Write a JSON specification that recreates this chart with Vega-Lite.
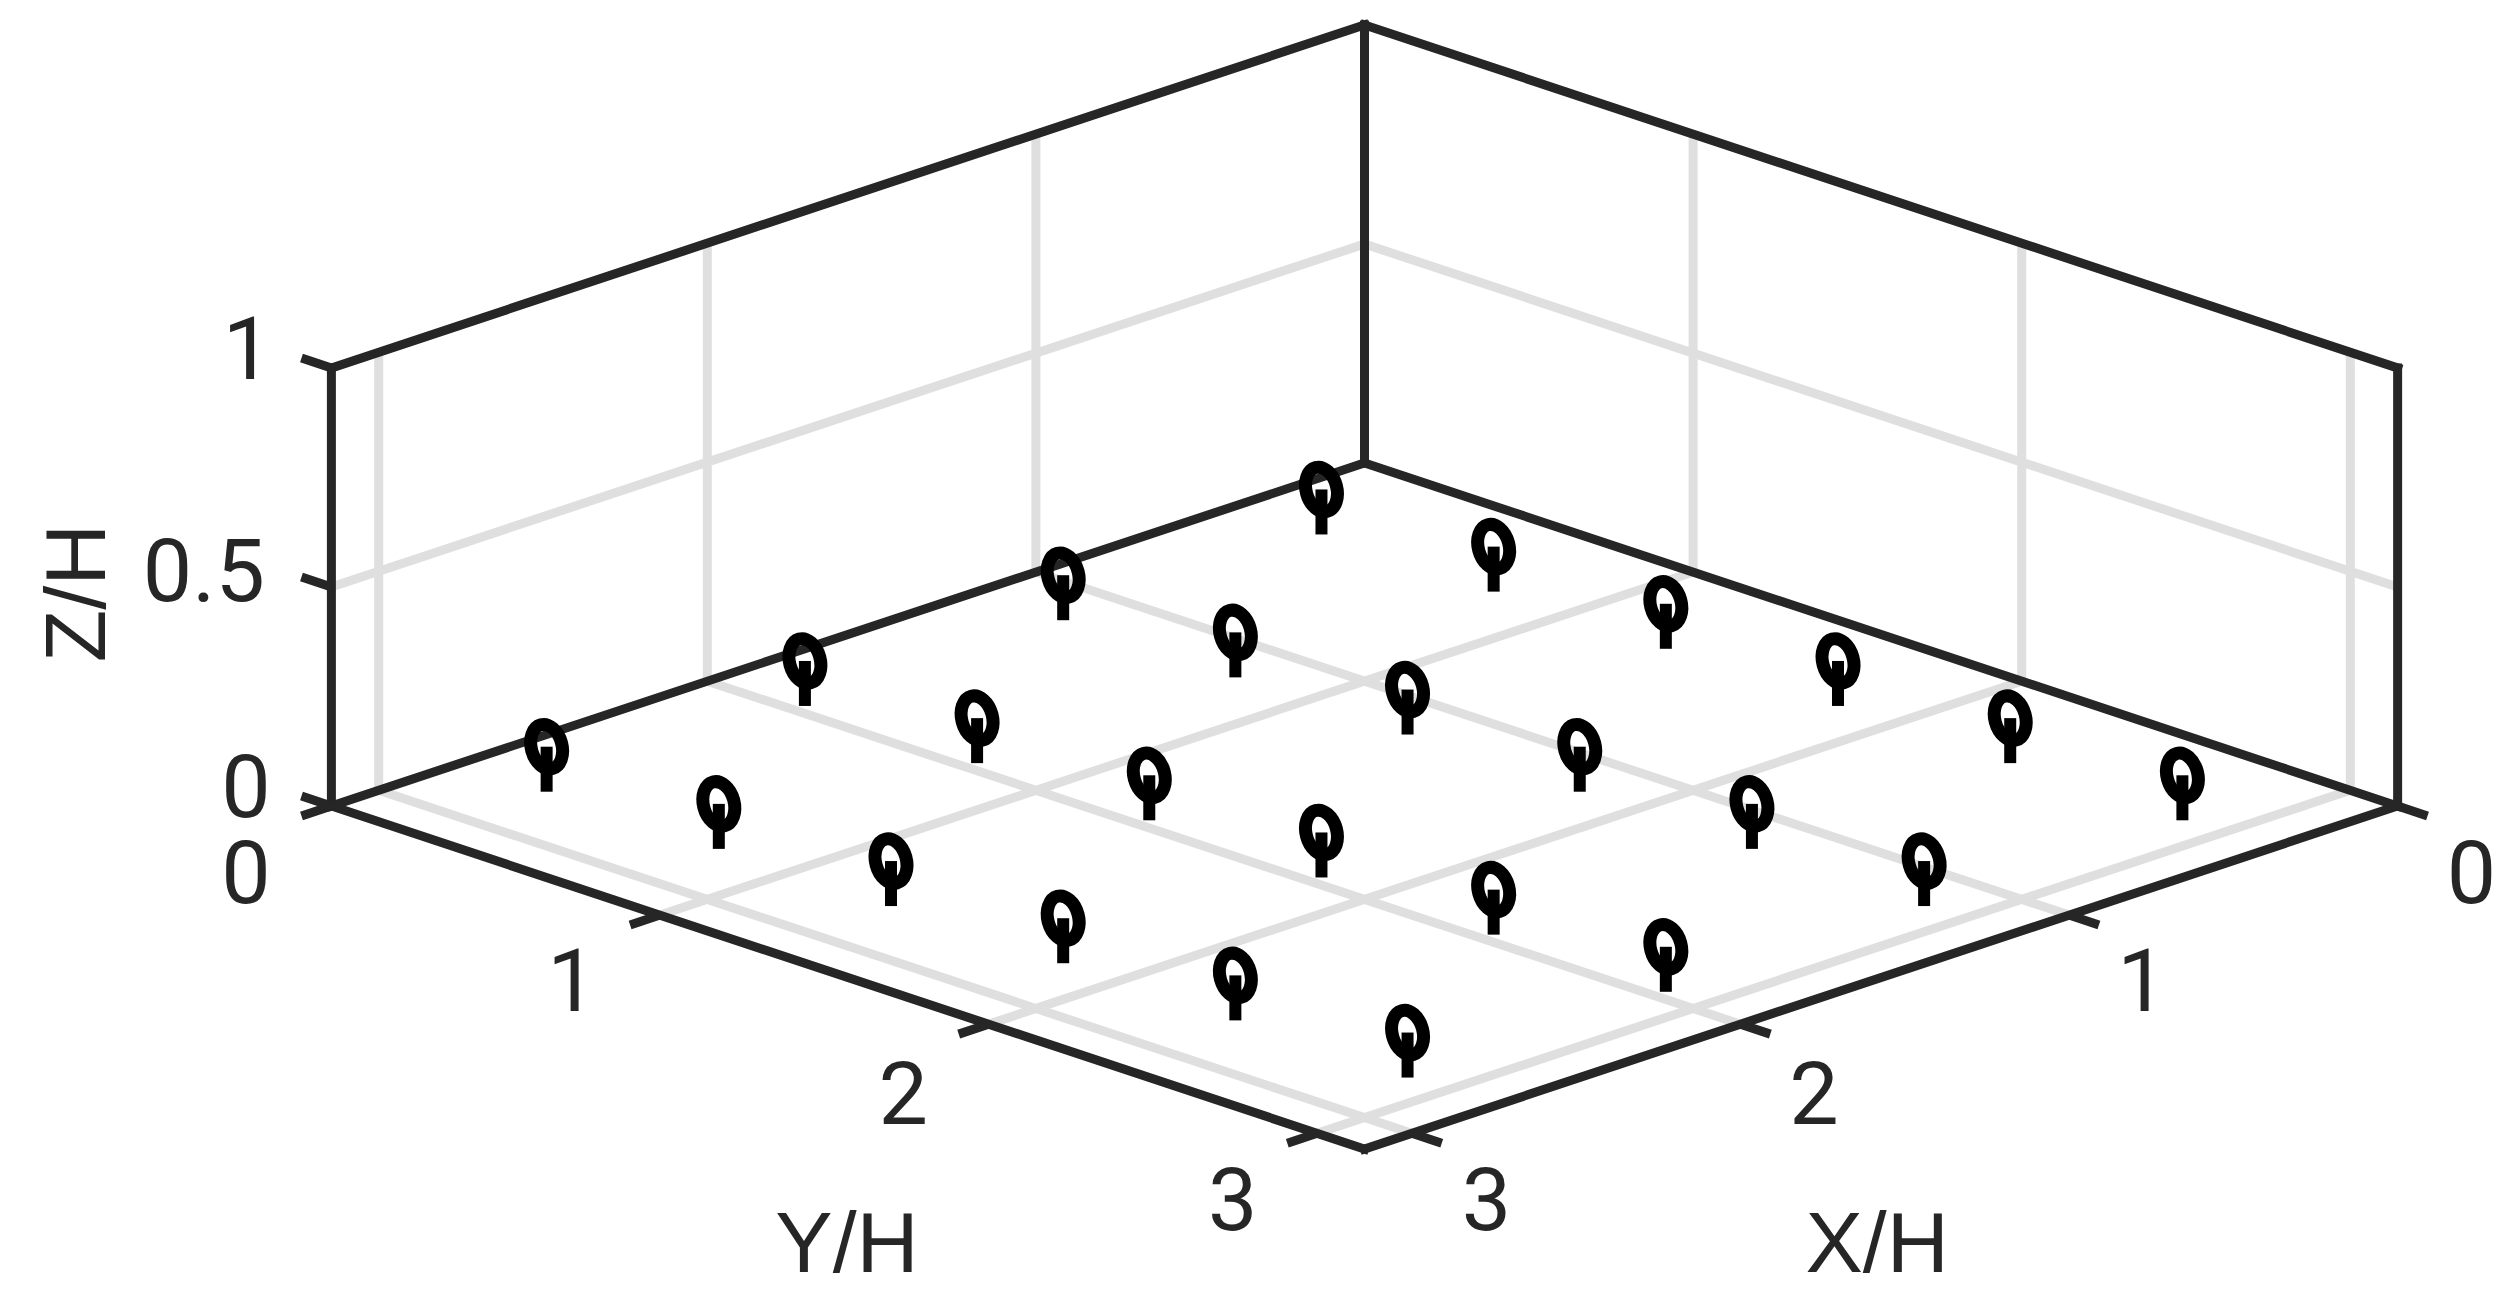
{"$schema":"https://vega.github.io/schema/vega-lite/v6.json","width":2520,"height":1304,"padding":0,"autosize":{"type":"none"},"background":"white","view":{"stroke":null},
"datasets":{
"grid":[{"u":-1,"d":1,"u2":-1,"d2":-3.015},{"u":-2,"d":2,"u2":-2,"d2":-2.015},{"u":-3,"d":3,"u2":-3,"d2":-1.015},{"u":1,"d":1,"u2":1,"d2":-3.015},{"u":2,"d":2,"u2":2,"d2":-2.015},{"u":3,"d":3,"u2":3,"d2":-1.015},{"u":-1,"d":1,"u2":2.144,"d2":4.144},{"u":-2,"d":2,"u2":1.144,"d2":5.144},{"u":-3,"d":3,"u2":0.144,"d2":6.144},{"u":1,"d":1,"u2":-2.144,"d2":4.144},{"u":2,"d":2,"u2":-1.144,"d2":5.144},{"u":3,"d":3,"u2":-0.144,"d2":6.144},{"u":-3.144,"d":1.1365,"u2":0,"d2":-2.0075},{"u":0,"d":-2.0075,"u2":3.144,"d2":1.1365}],
"frame":[{"u":-3.144,"d":3.144,"u2":-3.144,"d2":-0.871},{"u":-3.144,"d":-0.871,"u2":0,"d2":-4.015},{"u":0,"d":-4.015,"u2":3.144,"d2":-0.871},{"u":3.144,"d":3.144,"u2":3.144,"d2":-0.871},{"u":0,"d":0,"u2":0,"d2":-4.015},{"u":-3.144,"d":3.144,"u2":0,"d2":0},{"u":0,"d":0,"u2":3.144,"d2":3.144},{"u":-3.144,"d":3.144,"u2":0,"d2":6.288},{"u":0,"d":6.288,"u2":3.144,"d2":3.144}],
"ticks":[{"u":-3.144,"d":3.144,"u2":-3.235,"d2":3.053},{"u":-3.144,"d":1.1365,"u2":-3.235,"d2":1.0455},{"u":-3.144,"d":-0.871,"u2":-3.235,"d2":-0.962},{"u":-3.144,"d":3.144,"u2":-3.235,"d2":3.235},{"u":-2.144,"d":4.144,"u2":-2.235,"d2":4.235},{"u":-1.144,"d":5.144,"u2":-1.235,"d2":5.235},{"u":-0.144,"d":6.144,"u2":-0.235,"d2":6.235},{"u":3.144,"d":3.144,"u2":3.235,"d2":3.235},{"u":2.144,"d":4.144,"u2":2.235,"d2":4.235},{"u":1.144,"d":5.144,"u2":1.235,"d2":5.235},{"u":0.144,"d":6.144,"u2":0.235,"d2":6.235}],
"markers":[
{"u":-0.131,"d":0.655,"top":0.2425},{"u":-0.917,"d":1.441,"top":1.0285},{"u":-1.703,"d":2.227,"top":1.8145},{"u":-2.489,"d":3.013,"top":2.6005},
{"u":0.393,"d":1.179,"top":0.7665},{"u":-0.393,"d":1.965,"top":1.5525},{"u":-1.179,"d":2.751,"top":2.3385},{"u":-1.965,"d":3.537,"top":3.1245},
{"u":0.917,"d":1.703,"top":1.2905},{"u":0.131,"d":2.489,"top":2.0765},{"u":-0.655,"d":3.275,"top":2.8625},{"u":-1.441,"d":4.061,"top":3.6485},
{"u":1.441,"d":2.227,"top":1.8145},{"u":0.655,"d":3.013,"top":2.6005},{"u":-0.131,"d":3.799,"top":3.3865},{"u":-0.917,"d":4.585,"top":4.1725},
{"u":1.965,"d":2.751,"top":2.3385},{"u":1.179,"d":3.537,"top":3.1245},{"u":0.393,"d":4.323,"top":3.9105},{"u":-0.393,"d":5.109,"top":4.6965},
{"u":2.489,"d":3.275,"top":2.8625},{"u":1.703,"d":4.061,"top":3.6485},{"u":0.917,"d":4.847,"top":4.4345},{"u":0.131,"d":5.633,"top":5.2205}],
"digits":[{"t":"1","u":-3.399,"d":-1.004},{"t":"0.5","u":-3.532,"d":1.029},{"t":"0","u":-3.404,"d":3.01},{"t":"0","u":-3.404,"d":3.791},{"t":"1","u":-2.412,"d":4.785},{"t":"2","u":-1.404,"d":5.817},{"t":"3","u":-0.401,"d":6.796},{"t":"0","u":3.369,"d":3.791},{"t":"1","u":2.366,"d":4.785},{"t":"2","u":1.368,"d":5.817},{"t":"3","u":0.371,"d":6.796}],
"titles":[{"t":"Y/H","u":-1.575,"d":7.18},{"t":"X/H","u":1.56,"d":7.18}],
"zlabel":[{"t":"Z/H","u":-3.912,"d":1.191}]},
"encoding":{"x":{"field":"u","type":"quantitative","axis":null,"scale":{"domain":[-4.1525,3.5164],"nice":false,"zero":false}},"y":{"field":"d","type":"quantitative","axis":null,"scale":{"domain":[7.7086,-4.2438],"nice":false,"zero":false}}},
"layer":[
{"data":{"name":"grid"},"mark":{"type":"rule","color":"#dfdfdf","strokeWidth":9},"encoding":{"x2":{"field":"u2"},"y2":{"field":"d2"}}},
{"data":{"name":"frame"},"mark":{"type":"rule","color":"#262626","strokeWidth":9,"strokeCap":"square"},"encoding":{"x2":{"field":"u2"},"y2":{"field":"d2"}}},
{"data":{"name":"ticks"},"mark":{"type":"rule","color":"#262626","strokeWidth":9},"encoding":{"x2":{"field":"u2"},"y2":{"field":"d2"}}},
{"data":{"name":"markers"},"mark":{"type":"rule","color":"#000000","strokeWidth":12},"encoding":{"y2":{"field":"top"}}},
{"data":{"name":"markers"},"mark":{"type":"point","filled":false,"stroke":"#000000","strokeWidth":13,"opacity":1,"size":2050,"shape":"M -0.259 -0.966 A 0.68 1 -15 1 1 0.259 0.966 A 0.68 1 -15 1 1 -0.259 -0.966 Z"},"encoding":{"y":{"field":"top","type":"quantitative"}}},
{"data":{"name":"digits"},"mark":{"type":"text","font":"Roboto","fontWeight":400,"fontSize":88,"color":"#262626","align":"center","baseline":"middle"},"encoding":{"text":{"field":"t"}}},
{"data":{"name":"titles"},"mark":{"type":"text","font":"Liberation Sans","fontSize":86,"color":"#262626","align":"center","baseline":"middle"},"encoding":{"text":{"field":"t"}}},
{"data":{"name":"zlabel"},"mark":{"type":"text","font":"Liberation Sans","fontSize":86,"color":"#262626","align":"center","baseline":"middle","angle":270},"encoding":{"text":{"field":"t"}}}
]}
